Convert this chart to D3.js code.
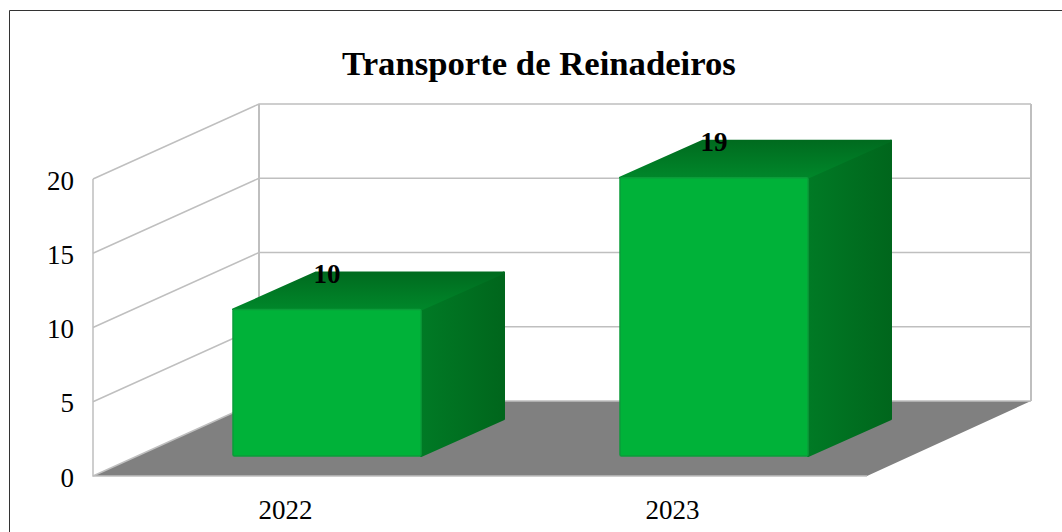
<!DOCTYPE html>
<html lang="en">
<head>
	<meta charset="utf-8">
	<title>Transporte de Reinadeiros</title>
	<style>
		html, body { margin: 0; padding: 0; background: #fff; }
		svg { display: block; }
		text { font-family: "Liberation Serif", serif; fill: #000; }
	</style>
</head>
<body>
	<div id="data-chart"></div>

	<script src="https://cdn.jsdelivr.net/npm/d3@7"></script>
	<script>
		const chartTitle = "Transporte de Reinadeiros";
		const categories = ["2022", "2023"];
		const values = [10, 19];
		const yTicks = [0, 5, 10, 15, 20];

		const width = 1062, height = 532;

		// depth of the fake 3D box
		const depth = {dx: 166, dy: -75};
		const barFront = {dx: 40.5, dy: -20};
		const barDepth = {dx: 83, dy: -37};
		const barWidth = 188;

		const svg = d3.select("#data-chart")
			.append("svg")
			.attr("width", width)
			.attr("height", height);

		const x = d3.scaleBand().domain(categories).range([93, 867]);
		const y = d3.scaleLinear().domain([0, 20]).range([476, 179]);
		// bars sit further back, so they come out a little shorter than the wall scale
		const barHeight = d3.scaleLinear().domain([0, 20]).range([0, 293]);

		const defs = svg.append("defs");

		const sideGrad = defs.append("linearGradient").attr("id", "side-grad");
		sideGrad.append("stop").attr("offset", "0%").attr("stop-color", "#007a25");
		sideGrad.append("stop").attr("offset", "100%").attr("stop-color", "#00661c");

		const topGrad = defs.append("linearGradient").attr("id", "top-grad")
			.attr("x1", 0).attr("y1", 1).attr("x2", 0).attr("y2", 0);
		topGrad.append("stop").attr("offset", "0%").attr("stop-color", "#00872a");
		topGrad.append("stop").attr("offset", "100%").attr("stop-color", "#006b1f");

		// outer frame, only left and top are visible
		svg.append("path")
			.attr("d", "M9.5,532V10.5H1062")
			.attr("fill", "none")
			.attr("stroke", "#333")
			.attr("stroke-width", 1);

		svg.append("text")
			.attr("x", 539)
			.attr("y", 75)
			.attr("text-anchor", "middle")
			.attr("font-weight", "bold")
			.attr("font-size", 34.7)
			.text(chartTitle);

		const floorRight = x.range()[1] + depth.dx - 2;

		// floor
		svg.append("path")
			.attr("d", d3.line()([
				[x.range()[0], y(0)],
				[x.range()[1], y(0)],
				[floorRight, y(0) + depth.dy],
				[x.range()[0] + depth.dx, y(0) + depth.dy]
			]))
			.attr("fill", "#808080");

		// gridlines on the side wall and the back wall
		const grid = svg.append("g")
			.attr("fill", "none")
			.attr("stroke", "#bfbfbf")
			.attr("stroke-width", 1.5);

		yTicks.forEach(t => {
			grid.append("path").attr("d", d3.line()([
				[x.range()[0], y(t)],
				[x.range()[0] + depth.dx, y(t) + depth.dy],
				[floorRight, y(t) + depth.dy]
			]));
		});

		grid.append("path").attr("d", d3.line()([
			[x.range()[0], y(20)],
			[x.range()[0], y(0)],
			[x.range()[1], y(0)]
		]));
		grid.append("path").attr("d", d3.line()([
			[x.range()[0] + depth.dx, y(20) + depth.dy],
			[x.range()[0] + depth.dx, y(0) + depth.dy]
		])).attr("stroke-width", 2);
		grid.append("path").attr("d", d3.line()([
			[floorRight, y(20) + depth.dy],
			[floorRight, y(0) + depth.dy]
		])).attr("stroke-width", 2);

		svg.append("g")
			.selectAll("text")
			.data(yTicks)
			.join("text")
			.attr("x", 74)
			.attr("y", d => y(d) + 10.5)
			.attr("text-anchor", "end")
			.attr("font-size", 27)
			.text(d => d);

		svg.append("g")
			.selectAll("text")
			.data(categories)
			.join("text")
			.attr("x", d => x(d) + x.bandwidth() / 2 - 1)
			.attr("y", 519)
			.attr("text-anchor", "middle")
			.attr("font-size", 27)
			.text(d => d);

		// bars
		const bars = svg.append("g")
			.selectAll("g")
			.data(categories.map((c, i) => ({category: c, value: values[i]})))
			.join("g");

		const barLeft = d => x(d.category) + x.bandwidth() / 2 + barFront.dx - barWidth / 2;
		const barRight = d => barLeft(d) + barWidth;
		const barBottom = y(0) + barFront.dy;
		const barTop = d => barBottom - barHeight(d.value);

		bars.append("path")
			.attr("d", d => d3.line()([
				[barRight(d), barTop(d)],
				[barRight(d) + barDepth.dx, barTop(d) + barDepth.dy],
				[barRight(d) + barDepth.dx, barBottom + barDepth.dy],
				[barRight(d), barBottom]
			]) + "Z")
			.attr("fill", "url(#side-grad)")
			.attr("stroke", "url(#side-grad)")
			.attr("stroke-linejoin", "round")
			.attr("stroke-width", 2);

		bars.append("path")
			.attr("d", d => d3.line()([
				[barLeft(d), barTop(d)],
				[barLeft(d) + barDepth.dx, barTop(d) + barDepth.dy],
				[barRight(d) + barDepth.dx, barTop(d) + barDepth.dy],
				[barRight(d), barTop(d)]
			]) + "Z")
			.attr("fill", "url(#top-grad)")
			.attr("stroke", "url(#top-grad)")
			.attr("stroke-linejoin", "round")
			.attr("stroke-width", 2);

		bars.append("rect")
			.attr("x", barLeft)
			.attr("y", barTop)
			.attr("width", barWidth)
			.attr("height", d => barBottom - barTop(d))
			.attr("rx", 1.5)
			.attr("fill", "#00b239")
			.attr("stroke", "#0b9c3a")
			.attr("stroke-width", 1.5);

		bars.append("text")
			.attr("x", d => barLeft(d) + barWidth / 2)
			.attr("y", d => barTop(d) - 26.5)
			.attr("text-anchor", "middle")
			.attr("font-weight", "bold")
			.attr("font-size", 27)
			.text(d => d.value);
	</script>
</body>
</html>
